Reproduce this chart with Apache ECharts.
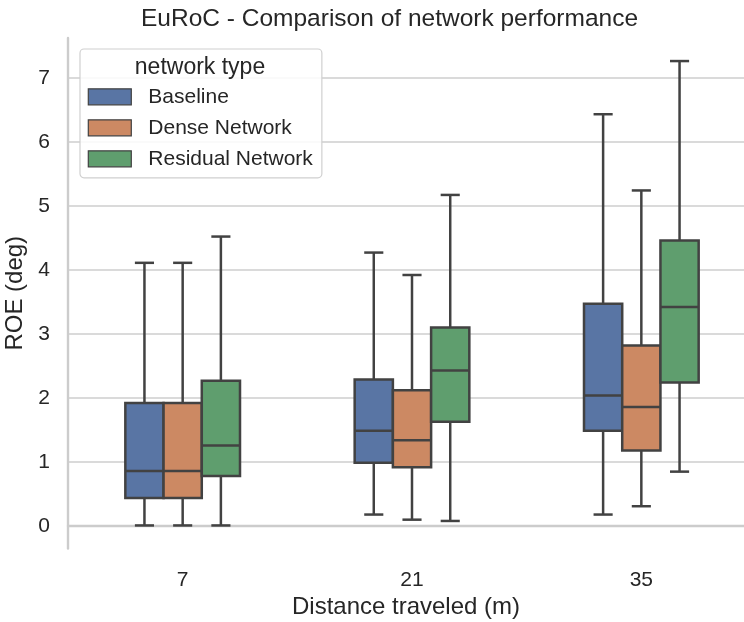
<!DOCTYPE html>
<html>
<head>
<meta charset="utf-8">
<script src="https://cdn.jsdelivr.net/npm/echarts@6/dist/echarts.min.js"></script>
<style>html,body{margin:0;padding:0;background:#fff}#chart{width:744px;height:622px}</style>
</head>
<body>
<div id="chart"></div>
<script>
// Categories (distance traveled, m)
const categories = ['7', '21', '35'];
// Box statistics per category: [min, Q1, median, Q3, max]
const baseline = [
  [0.01, 0.44, 0.86, 1.92, 4.11],
  [0.18, 0.99, 1.49, 2.29, 4.27],
  [0.18, 1.49, 2.04, 3.47, 6.43]
];
const denseNetwork = [
  [0.01, 0.44, 0.86, 1.92, 4.11],
  [0.10, 0.92, 1.34, 2.12, 3.92],
  [0.31, 1.18, 1.86, 2.82, 5.24]
];
const residualNetwork = [
  [0.01, 0.78, 1.26, 2.27, 4.52],
  [0.08, 1.63, 2.43, 3.10, 5.17],
  [0.85, 2.24, 3.42, 4.46, 7.26]
];
const seriesNames = ['Baseline', 'Dense Network', 'Residual Network'];
const seriesColors = ['#5975a4', '#cc8963', '#5f9e6e'];
const seriesStats = [baseline, denseNetwork, residualNetwork];

const LINE = '#424242';
const TEXT = '#262626';
const FONT = '"Liberation Sans", Arial, sans-serif';

function makeRender(slot, color) {
  return function (params, api) {
    const xi = api.value(0);
    const band = api.size([1, 0])[0];
    const bw = band / 6;
    const cx = api.coord([xi, 0])[0] + (slot - 1) * bw;
    const yMin = api.coord([xi, api.value(1)])[1];
    const yQ1 = api.coord([xi, api.value(2)])[1];
    const yMed = api.coord([xi, api.value(3)])[1];
    const yQ3 = api.coord([xi, api.value(4)])[1];
    const yMax = api.coord([xi, api.value(5)])[1];
    const lw = 2.5;
    const ls = {stroke: LINE, lineWidth: lw, fill: null};
    const cap = bw / 4;
    return {
      type: 'group',
      children: [
        {type: 'line', shape: {x1: cx, y1: yQ3, x2: cx, y2: yMax}, style: ls},
        {type: 'line', shape: {x1: cx, y1: yQ1, x2: cx, y2: yMin}, style: ls},
        {type: 'line', shape: {x1: cx - cap, y1: yMax, x2: cx + cap, y2: yMax}, style: ls},
        {type: 'line', shape: {x1: cx - cap, y1: yMin, x2: cx + cap, y2: yMin}, style: ls},
        {type: 'rect', shape: {x: cx - bw / 2, y: yQ3, width: bw, height: yQ1 - yQ3},
          style: {fill: color, stroke: LINE, lineWidth: lw}},
        {type: 'line', shape: {x1: cx - bw / 2, y1: yMed, x2: cx + bw / 2, y2: yMed}, style: ls}
      ]
    };
  };
}

const series = seriesNames.map(function (name, s) {
  return {
    name: name,
    type: 'custom',
    renderItem: makeRender(s, seriesColors[s]),
    itemStyle: {color: seriesColors[s]},
    encode: {x: 0, y: [1, 2, 3, 4, 5]},
    data: seriesStats[s].map(function (st, i) { return [i].concat(st); }),
    clip: false
  };
});

const chart = echarts.init(document.getElementById('chart'), null, {renderer: 'canvas'});
chart.setOption({
  animation: false,
  backgroundColor: '#ffffff',
  textStyle: {fontFamily: FONT},
  title: {
    text: 'EuRoC - Comparison of network performance',
    left: 136,
    top: 2,
    padding: [5, 5, 5, 5],
    textStyle: {fontSize: 24.5, fontWeight: 'normal', color: TEXT, fontFamily: FONT}
  },
  grid: {left: 68, right: -12, top: 38, bottom: 73.5, containLabel: false, outerBoundsMode: 'none'},
  xAxis: {
    type: 'category',
    data: categories,
    boundaryGap: true,
    axisLine: {show: true, lineStyle: {color: '#cccccc', width: 2.4}},
    axisTick: {show: false},
    splitLine: {show: false},
    axisLabel: {fontSize: 21, color: TEXT, margin: 21, fontFamily: FONT},
    name: 'Distance traveled (m)',
    nameLocation: 'middle',
    nameGap: 40,
    nameTextStyle: {fontSize: 24, color: TEXT, fontFamily: FONT, padding: [0, 12, 0, 0]}
  },
  yAxis: {
    type: 'value',
    min: -0.35,
    max: 7.62,
    splitNumber: 8,
    minInterval: 1,
    maxInterval: 1,
    axisLine: {show: true, lineStyle: {color: '#cccccc', width: 2.4}},
    axisTick: {show: false},
    splitLine: {show: true, showMinLine: false, showMaxLine: false, lineStyle: {color: '#dadada', width: 1.8}},
    axisLabel: {
      fontSize: 21, color: TEXT, margin: 18, fontFamily: FONT,
      showMinLabel: false, showMaxLabel: false,
      formatter: function (v) { return Math.abs(v - Math.round(v)) < 1e-9 ? String(Math.round(v) === 0 ? 0 : Math.round(v)) : ''; }
    },
    name: 'ROE (deg)',
    nameLocation: 'middle',
    nameGap: 37,
    nameTextStyle: {fontSize: 24, color: TEXT, fontFamily: FONT}
  },
  legend: {
    orient: 'vertical',
    left: 80,
    top: 49,
    padding: [37.3, 9, 8.5, 7.7],
    backgroundColor: 'rgba(255,255,255,0.85)',
    borderColor: '#d0d0d0',
    borderWidth: 1.2,
    borderRadius: 4,
    itemWidth: 43,
    itemHeight: 16,
    itemGap: 10,
    selectedMode: false,
    icon: 'rect',
    textStyle: {fontSize: 21, color: TEXT, fontFamily: FONT, lineHeight: 16, padding: [0, 0, 0, 12]},
    data: seriesNames.map(function (n, s) {
      return {name: n, icon: 'rect', itemStyle: {color: seriesColors[s], borderColor: LINE, borderWidth: 1.2}};
    })
  },
  graphic: [{
    type: 'text',
    x: 200,
    y: 68,
    z: 100,
    style: {text: 'network type', fill: TEXT, font: '23px ' + FONT, textAlign: 'center', textVerticalAlign: 'middle'}
  }],
  series: series
});
</script>
</body>
</html>
